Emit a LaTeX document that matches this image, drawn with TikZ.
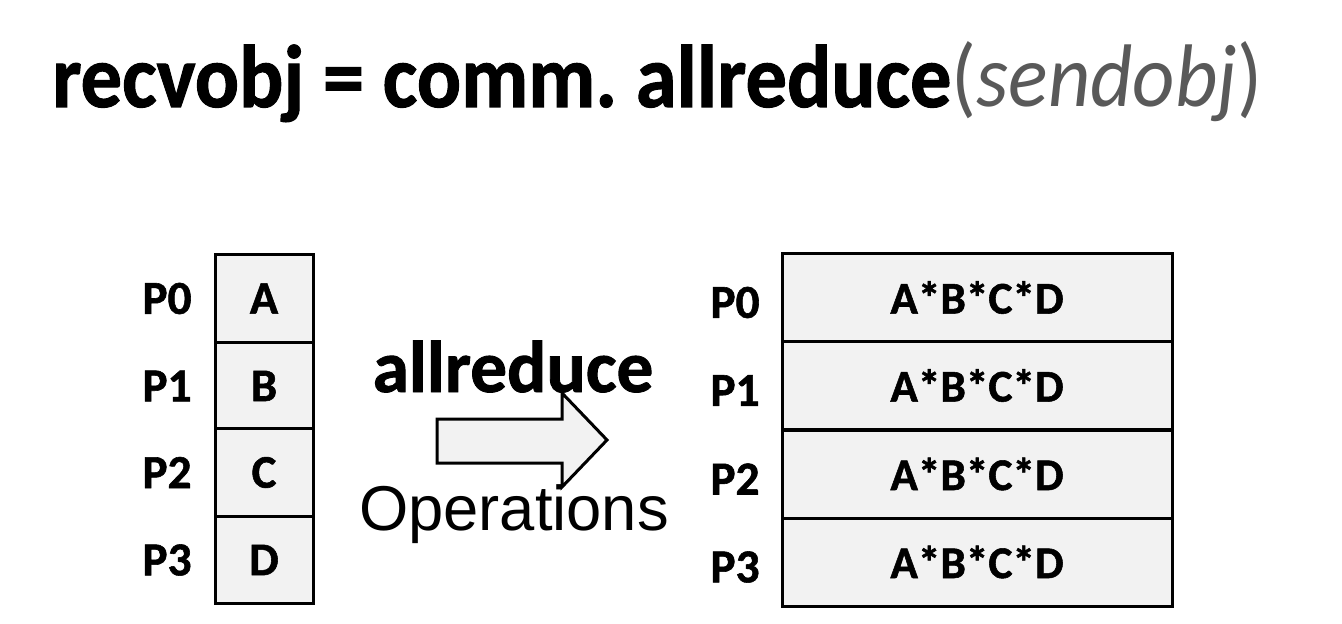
\documentclass[tikz,border=0pt]{standalone}
\usepackage{fontspec}
\setmainfont{Carlito}[BoldFeatures={FakeBold=1.2}]
\newfontfamily\arialf{Liberation Sans}
\newlength\pxu
\setlength\pxu{0.75pt}
\definecolor{cellgray}{HTML}{F2F2F2}
\definecolor{paren}{HTML}{595959}
\frenchspacing
\tikzset{
  cellL/.style={draw=black, line width=3\pxu, fill=cellgray, inner sep=0pt,
    minimum width=98\pxu, minimum height=87.5\pxu, font=\fontsize{35}{35}\selectfont\bfseries},
  cellR/.style={draw=black, line width=3\pxu, fill=cellgray, inner sep=0pt,
    minimum width=390\pxu, minimum height=88\pxu, font=\fontsize{34}{34}\selectfont\bfseries},
  plabel/.style={inner sep=0pt, font=\fontsize{35.5}{35.5}\selectfont\bfseries},
  bigarrow/.style={draw=black, line width=3\pxu, fill=cellgray, line join=miter}
}
\begin{document}
\begin{tikzpicture}[x=0.75pt, y=-0.75pt]
\useasboundingbox (0,0) rectangle (1342,624);
% title
\node[anchor=base west, inner sep=0pt, font=\fontsize{66}{66}\selectfont\bfseries] (title) at (52,107)
  {\resizebox{1210\pxu}{65\pxu}{recvobj = comm. allreduce{\mdseries\color{paren}(\itshape sendobj\/\upshape)}}};
% left column
\foreach \i/\t/\y in {0/A/298.5,1/B/386,2/C/472.5,3/D/560}{
  \node[cellL] (L\i) at (264,\y) {\t};
  \node[plabel] (LP\i) at (167,\y) {P\i};
}
% right column
\foreach \i/\y in {0/297.5,1/385.5,2/474,3/562}{
  \node[cellR] (R\i) at (977,\y) {A*B*C*D};
  \node[plabel] (RP\i) at (735,\y+5) {P\i};
}
% arrow
\draw[bigarrow] (437,419) -- (562,419) -- (562,393) -- (607,440) -- (562,487) -- (562,463) -- (437,463) -- cycle;
\node[inner sep=0pt, font=\fontsize{55}{55}\selectfont\bfseries, anchor=base] (lab) at (513,392) {allreduce};
\node[inner sep=0pt, font=\arialf\fontsize{47.5}{47.5}\selectfont, anchor=base] (ops) at (514,530) {Operations};
\end{tikzpicture}
\end{document}
